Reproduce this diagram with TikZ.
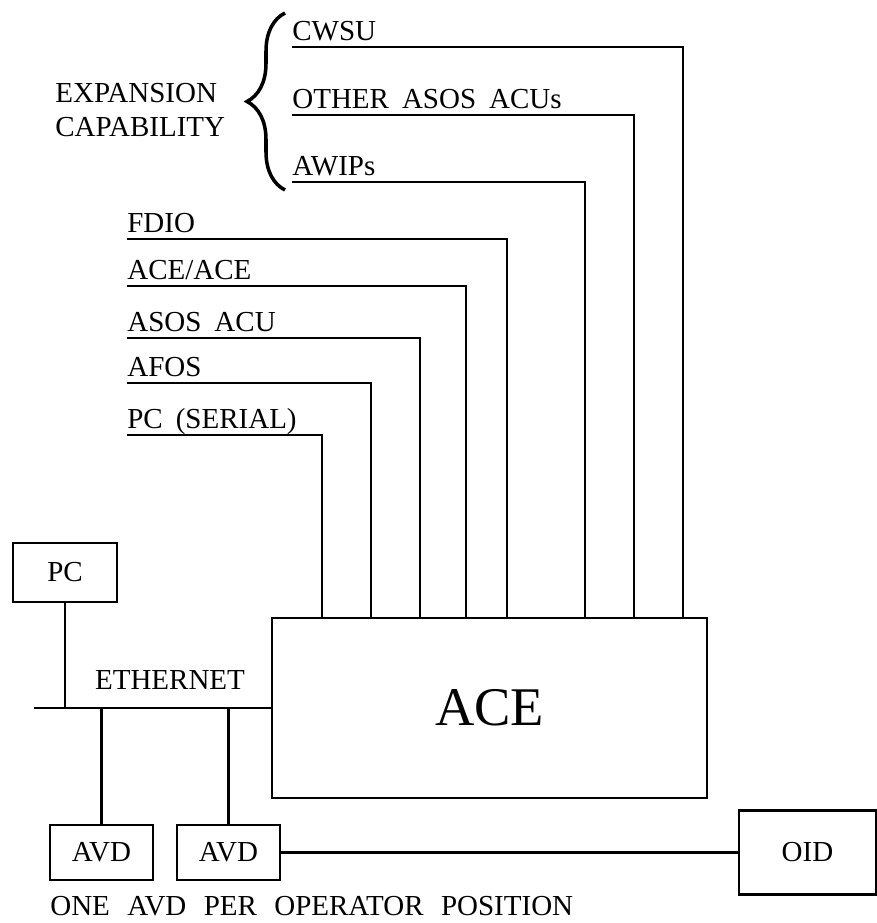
\documentclass[tikz,border=0pt]{standalone}
\usepackage{fontspec}
\setmainfont{Liberation Serif}
\usetikzlibrary{positioning, decorations.pathreplacing}

\begin{document}
\begin{tikzpicture}[
    x=0.2mm, y=-0.2mm,
    font={\fontsize{16.5}{19.5}\selectfont\spaceskip=0.45em\relax},
    box/.style={rectangle, draw, line width=1.3pt, align=center},
    feed/.style={anchor=south west, inner xsep=0pt, inner ysep=1.3mm, text depth=0pt},
    wire/.style={line width=1.3pt}
  ]
    \useasboundingbox (0,0) rectangle (877,923);

    % ACE
    \node[box, minimum width=87mm, minimum height=36mm, font=\fontsize{31}{36}\selectfont] (ace) at (489.5,708) {ACE};
    % inputs on top of ACE
    \foreach \n/\dx in {pcs/51, afos/100, asos/149, aa/195, fdio/236, awips/314, other/363, cwsu/412}
      \coordinate (\n-in) at ([xshift=\dx*0.2mm]ace.north west);

    % Expansion
    \node[align=left, anchor=west, inner sep=0pt] (expn) at (55,110) {EXPANSION\\CAPABILITY};
    \draw[line width=2pt, decorate, decoration={brace, amplitude=7.6mm}] (285,190) -- (285,13);
    \node[feed] (cwsu) at (292,47) {CWSU};
    \node[feed] (other) at (292,115) {OTHER ASOS ACUs};
    \node[feed] (awips) at (292,182) {AWIPs};

    % Serial lines
    \node[feed] (fdio) at (127,239) {FDIO};
    \node[feed] (aa) at (127,286) {ACE/ACE};
    \node[feed] (asos) at (127,338) {ASOS ACU};
    \node[feed] (afos) at (127,383) {AFOS};
    \node[feed] (pcs) at (127,435) {PC (SERIAL)};

    % PC and Ethernet
    \node[box, minimum width=20.8mm, minimum height=11.8mm] (pc) at (65,572.5) {PC};
    \node (eth) at (170,680) {ETHERNET};
    \coordinate (bus-end) at (34,708);

    % AVDs and OID
    \node[box, minimum width=20.6mm, minimum height=11mm] (avd1) at (101.5,852.5) {AVD};
    \node[box, minimum width=20.6mm, minimum height=11mm] (avd2) at (228.5,852.5) {AVD};
    \node[box, minimum width=27.4mm, minimum height=16.8mm] (oid) at (807.5,852.5) {OID};
    \node[anchor=base west, inner sep=0pt, font={\fontsize{16.5}{19.5}\selectfont\spaceskip=0.6em\relax}] (note) at (50,915) {ONE AVD PER OPERATOR POSITION};

    % Lines
    \foreach \n in {cwsu, other, awips, fdio, aa, asos, afos, pcs}
      \draw[wire] (\n.south west) -| (\n-in);
    \draw[wire] (bus-end) -- (ace.west);
    \draw[wire] (pc.south) -- (pc.south |- ace.west);
    \draw[wire] (avd1.north) -- (avd1.north |- ace.west);
    \draw[wire] (avd2.north) -- (avd2.north |- ace.west);
    \draw[wire] (avd2.east) -- (oid.west);
  \end{tikzpicture}
\end{document}
